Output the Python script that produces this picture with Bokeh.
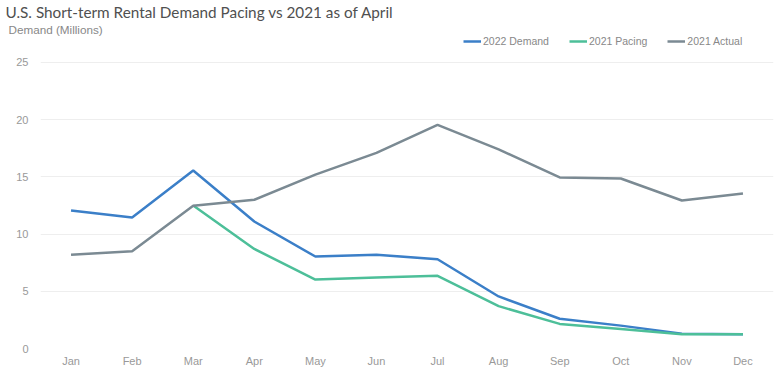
from bokeh.plotting import figure
from bokeh.models import FixedTicker, Legend, LegendItem, Title
from bokeh.embed import file_html
from bokeh.resources import INLINE
import numpy as np

months = ["Jan", "Feb", "Mar", "Apr", "May", "Jun", "Jul", "Aug", "Sep", "Oct", "Nov", "Dec"]
demand_2022 = [12.06, 11.45, 15.56, 11.1, 8.04, 8.2, 7.8, 4.55, 2.6, 2.0, 1.3, 1.25]
pacing_2021 = [np.nan, np.nan, 12.5, 8.7, 6.03, 6.2, 6.35, 3.7, 2.15, 1.7, 1.25, 1.25]
actual_2021 = [8.2, 8.5, 12.47, 13.0, 15.2, 17.1, 19.55, 17.4, 14.95, 14.86, 12.94, 13.55]
y_ticks = [0, 5, 10, 15, 20, 25]

p = figure(width=780, height=376, x_range=months, y_range=(0, 27.36),
           output_backend="svg", toolbar_location=None,
           min_border_left=40, min_border_right=7, min_border_top=35, min_border_bottom=28)
p.outline_line_color = None
p.background_fill_color = "white"
p.border_fill_color = "white"

r1 = p.line(months, demand_2022, line_color="#3b7fc8", line_width=2.5)
r2 = p.line(months, pacing_2021, line_color="#4dbf99", line_width=2.5)
r3 = p.line(months, actual_2021, line_color="#7b8a93", line_width=2.5)

p.yaxis.ticker = FixedTicker(ticks=y_ticks)
p.ygrid.ticker = FixedTicker(ticks=y_ticks)
p.ygrid.grid_line_color = "#eeeeee"
p.xgrid.grid_line_color = None
for ax in (p.xaxis[0], p.yaxis[0]):
    ax.axis_line_color = None
    ax.major_tick_line_color = None
    ax.minor_tick_line_color = None
    ax.major_tick_out = 0
    ax.major_tick_in = 0
    ax.minor_tick_out = 0
    ax.major_label_text_color = "#999999"
    ax.major_label_text_font = "Liberation Sans"
    ax.major_label_text_font_size = "11px"
p.yaxis.major_label_standoff = 12
p.xaxis.major_label_standoff = 6

p.add_layout(Title(text="Demand (Millions)", align="left", offset=-32, standoff=0,
                   text_font="Liberation Sans", text_font_size="11.7px",
                   text_font_style="normal", text_color="#888888"), "above")
p.add_layout(Title(text="U.S. Short-term Rental Demand Pacing vs 2021 as of April",
                   align="left", offset=-35, standoff=0,
                   text_font="Lato", text_font_size="15.3px",
                   text_font_style="normal", text_color="#505050"), "above")

legend = Legend(items=[LegendItem(label="2022 Demand", renderers=[r1]),
                       LegendItem(label="2021 Pacing", renderers=[r2]),
                       LegendItem(label="2021 Actual", renderers=[r3])],
                orientation="horizontal", location=(423, 301),
                label_text_font="Liberation Sans", label_text_font_size="10.5px",
                label_text_color="#888888", glyph_width=18, glyph_height=12,
                label_height=12, label_standoff=2,
                spacing=20, padding=0, margin=0, border_line_color=None,
                background_fill_alpha=0)
p.add_layout(legend)

open("out.html", "w").write(file_html(p, INLINE))
